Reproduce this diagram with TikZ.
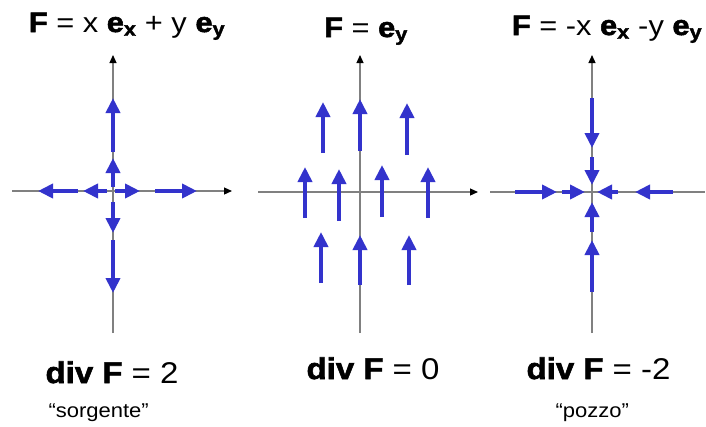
\documentclass[tikz,border=0pt]{standalone}
\usepackage{fontspec}
\setmainfont{Liberation Sans}[FakeStretch=1.1, BoldFeatures={FakeBold=2}]
\usetikzlibrary{arrows.meta}
\definecolor{fieldblue}{RGB}{51,51,204}
\newcommand{\unitvec}[1]{\textbf{e}\textsubscript{\textbf{#1}}}

\begin{document}
\begin{tikzpicture}[x=1pt, y=-1pt,
    axis/.style={gray, line width=1.2pt, -{Triangle[length=8pt, width=7pt, fill=black, color=black]}},
    field/.style={fieldblue, line width=4pt, -{Triangle[length=15pt, width=14pt]}},
    title/.style={anchor=base, font=\fontsize{28}{32}\selectfont},
    divlabel/.style={anchor=base west, font=\fontsize{30}{34}\selectfont},
    namelabel/.style={anchor=base west, font=\fontsize{20}{24}\selectfont}]
    \useasboundingbox (0,0) rectangle (706,426);

    % Sorgente: F = x ex + y ey
    \draw[axis] (113,333) -- (113,55);
    \draw[axis] (12,191) -- (232,191);
    \foreach \ya/\yb in {152/98, 187/158, 202/233, 240/293}
        \draw[field] (113,\ya) -- (113,\yb);
    \foreach \xa/\xb in {78/38, 107/83, 115/140, 155/197}
        \draw[field] (\xa,191) -- (\xb,191);
    \node[title] (title1) at (127,32) {\textbf{F} = x \unitvec{x} + y \unitvec{y}};

    % Campo uniforme: F = ey
    \draw[axis] (360,333) -- (360,55);
    \draw[axis] (258,192) -- (478,192);
    \foreach \x/\ya/\yb in {323/153/102, 360/151/99, 407/155/103,
                            305/218/167, 339/221/169, 382/217/165, 428/218/167,
                            321/283/232, 360/285/235, 409/285/235}
        \draw[field] (\x,\ya) -- (\x,\yb);
    \node[title] (title2) at (366,37) {\textbf{F} = \unitvec{y}};

    % Pozzo: F = -x ex - y ey
    \draw[gray, line width=1.2pt] (490,192) -- (705,192);
    \draw[axis] (592,333) -- (592,55);
    \foreach \ya/\yb in {98/148, 157/185, 232/202, 292/240}
        \draw[field] (592,\ya) -- (592,\yb);
    \foreach \xa/\xb in {515/557, 562/585, 618/597, 673/635}
        \draw[field] (\xa,192) -- (\xb,192);
    \node[title] (title3) at (607,35) {\textbf{F} = -x \unitvec{x} -y \unitvec{y}};

    % Divergenze
    \node[divlabel] (div1) at (42,383) {\textbf{div F} = 2};
    \node[divlabel] (div2) at (303,379) {\textbf{div F} = 0};
    \node[divlabel] (div3) at (523,379) {\textbf{div F} = -2};
    \node[namelabel] (name1) at (45,417) {“sorgente”};
    \node[namelabel] (name3) at (552,417) {“pozzo”};
\end{tikzpicture}
\end{document}
